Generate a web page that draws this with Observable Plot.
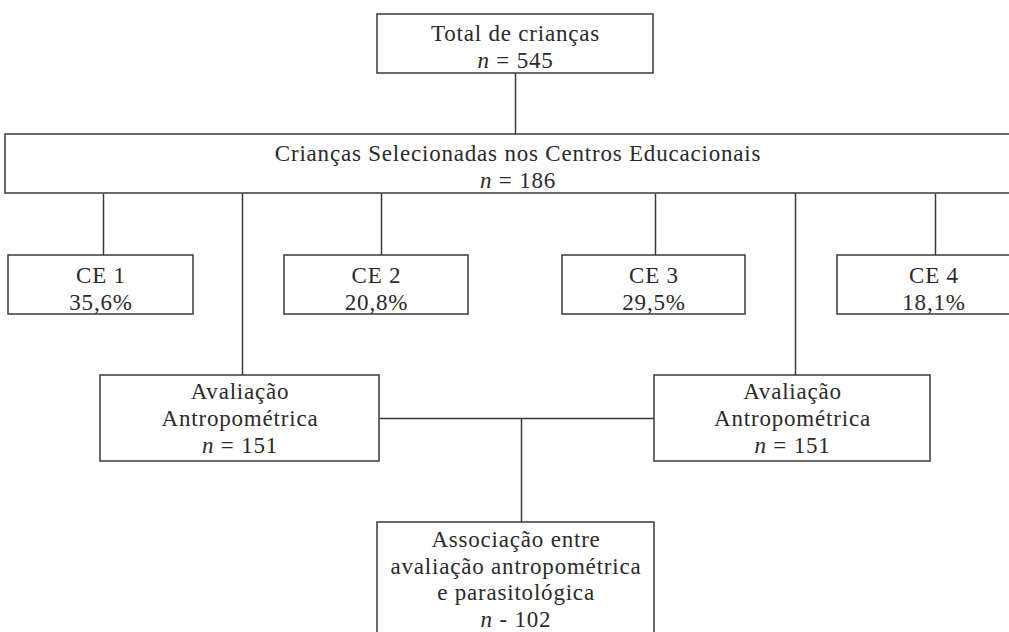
<!DOCTYPE html>
<html>
<head>
<meta charset="utf-8">
<script src="https://cdn.jsdelivr.net/npm/d3@7"></script>
<script src="https://cdn.jsdelivr.net/npm/@observablehq/plot@0.6"></script>
<style>
  html, body { margin: 0; padding: 0; background: #fff; }
  svg { display: block; }
</style>
</head>
<body>
<div id="chart"></div>
<script>
// ---- data ----
const totalLabel = "Total de crianças";
const totalN = 545;
const selectedLabel = "Crianças Selecionadas nos Centros Educacionais";
const selectedN = 186;
const centers = ["CE 1", "CE 2", "CE 3", "CE 4"];
const centerPct = ["35,6%", "20,8%", "29,5%", "18,1%"];
const anthroLabel = "Avaliação\nAntropométrica";
const anthroN = [151, 151];
const assocLabel = "Associação entre\navaliação antropométrica\ne parasitológica";
const assocN = 102;

// ---- layout (pixel space of the diagram) ----
const boxLayout = [
  {x1: 377, x2: 653, y1: 14, y2: 73, ty: 45, lh: 1.174},
  {x1: 5, x2: 1030, y1: 134, y2: 193, ty: 165, lh: 1.174},
  {x1: 8, x2: 193, y1: 255, y2: 314, ty: 287, lh: 1.174},
  {x1: 284, x2: 468, y1: 255, y2: 314, ty: 287, lh: 1.174},
  {x1: 562, x2: 745, y1: 255, y2: 314, ty: 287, lh: 1.174},
  {x1: 837, x2: 1030, y1: 255, y2: 314, ty: 287, lh: 1.174},
  {x1: 100, x2: 379, y1: 375, y2: 461, ty: 417, lh: 1.174},
  {x1: 654, x2: 930, y1: 375, y2: 461, ty: 417, lh: 1.174},
  {x1: 377, x2: 654, y1: 522, y2: 680, ty: 578, lh: 1.15}
];
const labels = [
  `${totalLabel}\nn = ${totalN}`,
  `${selectedLabel}\nn = ${selectedN}`,
  ...centers.map((c, i) => `${c}\n${centerPct[i]}`),
  ...anthroN.map(n => `${anthroLabel}\nn = ${n}`),
  `${assocLabel}\nn - ${assocN}`
];
const boxes = boxLayout.map((b, i) => ({...b, label: labels[i], cx: (b.x1 + b.x2) / 2}));

const links = [
  {x1: 515, y1: 73, x2: 515, y2: 134},
  {x1: 103, y1: 193, x2: 103, y2: 255},
  {x1: 381, y1: 193, x2: 381, y2: 255},
  {x1: 655, y1: 193, x2: 655, y2: 255},
  {x1: 935, y1: 193, x2: 935, y2: 255},
  {x1: 242, y1: 193, x2: 242, y2: 375},
  {x1: 795, y1: 193, x2: 795, y2: 375},
  {x1: 379, y1: 418, x2: 654, y2: 418},
  {x1: 521, y1: 418, x2: 521, y2: 522}
];

const stroke = "#3a3a3a";
const textMarks = boxes.map(b =>
  Plot.text([b], {x: "cx", y: "ty", text: "label", fontSize: 23, lineHeight: b.lh, fill: "#2a2a2a", lineAnchor: "middle"})
);
const plot = Plot.plot({
  width: 1009,
  height: 632,
  margin: 0,
  x: {domain: [0, 1009], axis: null},
  y: {domain: [0, 632], range: [0, 632], axis: null},
  style: {fontFamily: "'Liberation Serif', 'DejaVu Serif', serif", background: "#fff"},
  marks: [
    Plot.link(links, {x1: "x1", y1: "y1", x2: "x2", y2: "y2", stroke, strokeWidth: 1.5}),
    Plot.rect(boxes, {x1: "x1", x2: "x2", y1: "y1", y2: "y2", fill: "#fff", stroke, strokeWidth: 1.5}),
    ...textMarks
  ]
});

// letter spacing + italic leading "n"
plot.querySelectorAll("text").forEach(t => t.setAttribute("letter-spacing", "0.8"));
plot.querySelectorAll("tspan").forEach(t => {
  const s = t.textContent;
  if (/^n [=-] /.test(s)) {
    t.textContent = "";
    const it = document.createElementNS("http://www.w3.org/2000/svg", "tspan");
    it.setAttribute("font-style", "italic");
    it.textContent = "n";
    t.appendChild(it);
    t.appendChild(document.createTextNode(s.slice(1)));
  }
});

document.getElementById("chart").appendChild(plot);
</script>
</body>
</html>
